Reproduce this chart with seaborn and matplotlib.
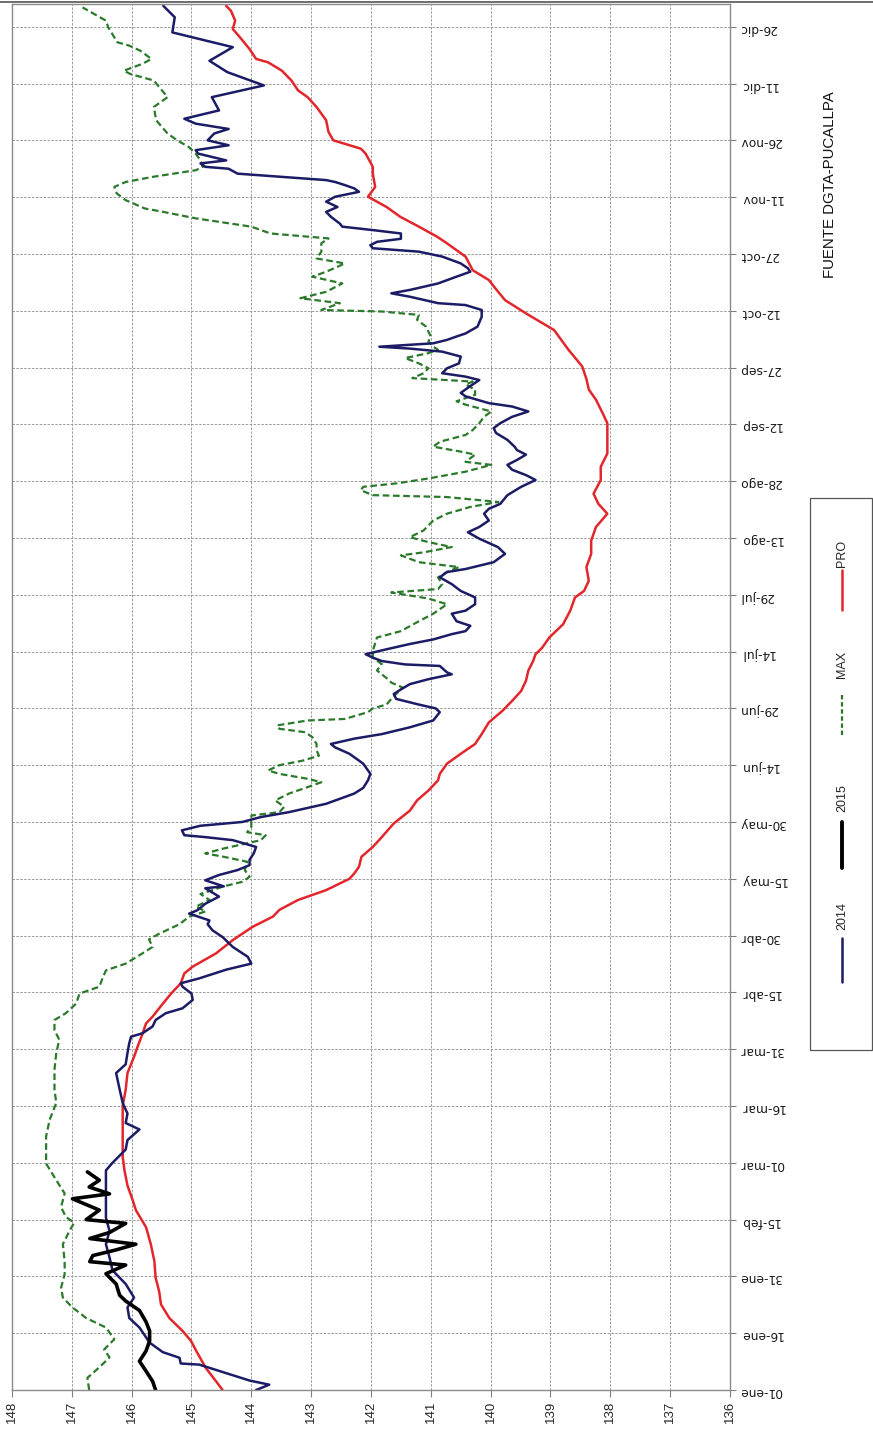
import matplotlib
matplotlib.use("Agg")
import matplotlib.pyplot as plt
from matplotlib.lines import Line2D
from matplotlib.patches import Rectangle
import seaborn as sns

# day of year (0 = 01-ene) and level (m.s.n.m.)
dias_2014 = [0, 1.4, 2.5, 5, 6.7, 7, 8.5, 10, 12.5, 16.5, 19, 21.8, 24.4, 28, 31.6, 35, 38.5, 42,
             45.5, 50, 54, 58, 60, 63.5, 66, 68.8, 70.5, 73, 75.8, 79.3, 83.7, 86, 89, 91.6, 93.3,
             94.2, 96, 97.7, 99.5, 100.8, 103, 104.7, 106.5, 107.4, 108.7, 111, 112.6, 114.4, 117,
             119.6, 121.4, 123, 124, 125.8, 126.7, 128.4, 130.3, 132.5, 133, 134.6, 136, 137.3,
             138.6, 140, 141.7, 143.4, 145.2, 146, 146.5, 147.8, 149, 150, 151.3, 152.6, 154.8,
             157.5, 159, 161, 162.7, 165.4, 168, 169.7, 170.6, 172, 173.2, 175, 176.8, 179, 180,
             181, 182.5, 183.8, 185, 186.4, 187.7, 189, 189.5, 191.2, 191.6, 192.5, 193.4, 194.3,
             195.6, 197, 198.2, 199.6, 200.4, 201.8, 203, 205, 205.8, 207.5, 209.3, 211, 212.8,
             214.6, 216, 216.8, 218.6, 220.8, 222.6, 224.8, 226.5, 227.9, 229.6, 231.4, 232.7,
             234, 236.3, 238.5, 240.3, 241.6, 243, 244.3, 245.6, 247, 248.2, 249.1, 250.9, 252.7,
             254, 255.3, 257, 258.4, 259.7, 260.6, 262.4, 263.3, 265, 266.7, 267.6, 268.5, 269.8,
             271.1, 272.9, 274.2, 275, 275.5, 276.4, 277.3, 278.2, 279, 280.8, 283.4, 285.2,
             286.5, 287, 288.7, 289.6, 290.5, 292.2, 294, 295.3, 296.2, 297.5, 299.3, 300.6,
             301.5, 302.3, 303.2, 304, 305.4, 306.3, 307.2, 308, 309.8, 311.1, 312.4, 313.8,
             315.1, 316.4, 317.3, 318.2, 319, 319.5, 320.4, 321.2, 322.5, 323, 323.9, 324.7,
             326.5, 327.4, 328.7, 330, 331.8, 333, 334.4, 335.7, 337.9, 341.4, 344.5, 348, 351,
             354.6, 358.5, 362.5, 365.5]
nivel_2014 = [143.92, 143.7, 144.03, 144.53, 144.87, 145.18, 145.2, 145.48, 145.7, 145.87, 146.04,
              146.07, 145.96, 146.1, 146.32, 146.37, 146.43, 146.37, 146.43, 146.43, 146.43,
              146.43, 146.32, 146.1, 146.07, 145.87, 146.1, 146.07, 146.15, 146.2, 146.26, 146.1,
              146.07, 146.04, 146.01, 145.82, 145.65, 145.6, 145.43, 145.15, 144.98, 145.0,
              145.15, 145.18, 144.87, 144.42, 144.0, 144.06, 144.31, 144.48, 144.65, 144.73,
              144.7, 145.04, 144.9, 144.77, 144.54, 144.77, 144.46, 144.77, 144.54, 144.23,
              144.03, 144.03, 143.96, 143.92, 144.31, 144.77, 145.12, 145.16, 144.85, 144.15,
              143.84, 143.37, 142.75, 142.28, 142.13, 142.05, 142.01, 142.13, 142.36, 142.6,
              142.67, 142.28, 141.82, 141.35, 140.96, 140.85, 140.92, 141.2, 141.58, 141.62,
              141.5, 141.35, 141.04, 140.65, 140.73, 140.85, 141.43, 141.82, 141.97, 142.09,
              141.74, 141.35, 140.96, 140.65, 140.42, 140.34, 140.57, 140.65, 140.42, 140.26,
              140.26, 140.5, 140.65, 140.85, 140.73, 140.42, 139.95, 139.76, 139.88, 140.19,
              140.38, 140.19, 140.03, 140.11, 140.03, 139.84, 139.72, 139.49, 139.25, 139.41,
              139.64, 139.72, 139.56, 139.41, 139.56, 139.6, 139.72, 139.91, 139.95, 139.84,
              139.64, 139.37, 139.64, 140.03, 140.42, 140.5, 140.35, 140.19, 140.42, 140.81,
              140.73, 140.53, 140.5, 140.81, 141.35, 141.86, 140.96, 140.73, 140.57, 140.42,
              140.22, 140.15, 140.15, 140.42, 140.88, 141.35, 141.66, 141.35, 140.88, 140.57,
              140.34, 140.38, 140.5, 140.81, 141.2, 141.97, 142.01, 141.9, 141.5, 141.5, 141.97,
              142.48, 142.52, 142.67, 142.75, 142.56, 142.75, 142.6, 142.2, 142.28, 142.44,
              142.6, 142.75, 143.53, 144.23, 144.38, 144.77, 144.85, 144.42, 144.89, 144.93,
              144.38, 144.73, 144.62, 144.38, 144.93, 145.12, 144.54, 144.66, 143.79, 144.4,
              144.7, 144.31, 145.32, 145.28, 145.47]

dias_2015 = [0, 2.3, 5, 7.6, 10.3, 13, 15.6, 18, 21, 23.5, 25, 28, 30.7, 33, 33.9, 35.5, 37, 38.5,
             40, 41.6, 44, 45, 47.5, 50.5, 51.8, 53.6, 55.4, 57.6]
nivel_2015 = [145.6, 145.65, 145.76, 145.87, 145.76, 145.7, 145.7, 145.76, 145.87, 146.1, 146.2,
              146.26, 146.43, 146.1, 146.7, 146.65, 146.26, 145.93, 146.7, 146.37, 146.1, 146.76,
              146.54, 146.99, 146.37, 146.71, 146.54, 146.74]

dias_max = [0, 3.2, 6, 8.6, 10.7, 13.4, 16.5, 19, 21.8, 24.4, 27, 30.6, 34, 38.5, 42, 44.2, 45.7,
            48.3, 51.9, 55.4, 59.8, 63.4, 67, 71.4, 75.8, 79.3, 84.6, 89, 92.5, 95, 97.7, 99.5,
            102, 104.7, 106.5, 109, 110.8, 112.6, 115.3, 117, 119, 120.5, 123, 125, 126.4, 127.6,
            129.4, 131, 133, 134.2, 135.5, 137.3, 139.5, 140.8, 141.7, 143, 145.2, 146.5, 147.3,
            148.7, 150.4, 151.7, 152.6, 154, 155.7, 157.5, 159.2, 160.5, 161.4, 162.7, 163.6,
            165, 166.2, 167.5, 168.9, 170.6, 172.4, 173.7, 174.6, 175.5, 176.8, 177.2, 179, 180,
            181, 182.5, 183.8, 185.5, 186.8, 188, 190, 191.7, 193.4, 195.2, 198.7, 200.4, 203,
            205, 207.5, 209, 210.6, 211.5, 212.8, 214.6, 216, 217.3, 218.6, 220.4, 221.2, 222.6,
            223.9, 225.2, 227, 229.6, 231.4, 233.2, 234.5, 235.8, 236.3, 237.6, 238.5, 239.4,
            240.7, 242.5, 244.3, 245.1, 247, 247.8, 249.1, 250.4, 252.2, 253.5, 255.3, 257,
            258.4, 260.2, 261.1, 262.8, 264.2, 265.5, 266.3, 267.2, 268.5, 269.8, 271.1, 272.5,
            273.8, 274.7, 275.5, 276.9, 278.2, 280.8, 282.6, 283.9, 284.8, 285.2, 287, 288.3,
            290, 292.2, 294, 295.3, 296.6, 297.5, 298.8, 300.6, 302.8, 304.1, 305.4, 307.2,
            309.4, 311.1, 312, 314.2, 316, 317.7, 319, 320.4, 322.1, 323, 324.7, 326.5, 328.3,
            330, 331.8, 335.3, 338.8, 341.4, 345.8, 347.5, 348.4, 350.2, 351.5, 353.7, 355,
            355.9, 359.8, 361.6, 365.1]
nivel_max = [146.71, 146.74, 146.54, 146.37, 146.46, 146.29, 146.43, 146.76, 146.99, 147.15, 147.18,
             147.12, 147.12, 147.15, 147.04, 146.96, 147.1, 147.18, 147.12, 147.26, 147.43, 147.43,
             147.43, 147.37, 147.26, 147.29, 147.29, 147.26, 147.21, 147.29, 147.29, 147.1,
             146.93, 146.87, 146.54, 146.48, 146.43, 146.1, 145.82, 145.65, 145.71, 145.54, 145.2,
             145.04, 144.76, 144.93, 144.7, 144.85, 144.46, 144.15, 144.03, 144.11, 144.07,
             144.46, 144.77, 144.46, 143.84, 143.76, 144.07, 144.0, 144.0, 144.0, 143.53, 143.45,
             143.6, 143.37, 143.06, 142.83, 143.06, 143.53, 143.72, 143.53, 143.14, 142.87,
             142.91, 142.91, 142.98, 143.1, 143.53, 143.57, 143.06, 142.44, 142.05, 141.97,
             141.74, 141.66, 141.58, 141.47, 141.66, 141.74, 141.9, 141.82, 141.97, 141.97,
             141.9, 141.5, 141.2, 140.96, 140.73, 141.04, 141.66, 140.88, 140.81, 140.88, 140.73,
             140.53, 141.2, 141.5, 141.12, 140.65, 141.04, 141.35, 141.12, 140.96, 140.73, 140.34,
             139.87, 140.73, 141.97, 142.17, 142.13, 141.58, 141.04, 140.42, 139.99, 140.42,
             140.26, 140.5, 140.96, 140.85, 140.42, 140.3, 140.19, 140.11, 139.99, 140.42, 140.57,
             140.26, 140.26, 140.42, 140.3, 141.31, 141.12, 141.04, 141.2, 141.43, 141.04, 140.88,
             140.96, 141.04, 141.0, 141.08, 141.23, 141.2, 141.82, 142.83, 142.52, 143.18, 142.75,
             142.48, 142.98, 142.75, 142.56, 142.44, 142.91, 142.83, 142.83, 142.71, 143.68,
             144.0, 144.93, 145.47, 145.78, 146.1, 146.25, 146.29, 146.1, 145.63, 144.93, 144.81,
             144.85, 144.93, 145.05, 145.24, 145.4, 145.59, 145.63, 145.4, 145.63, 146.02, 146.13,
             145.82, 145.67, 145.86, 146.04, 146.24, 146.39, 146.43, 146.82]

dias_pro = [0, 2.3, 5.8, 10.3, 13, 15.6, 19, 22.6, 26, 29.7, 34, 38.5, 43, 47.5, 50, 54, 58, 61.6,
            67, 71.4, 75, 79.3, 83.7, 88, 90.7, 94, 96.8, 98.6, 102, 104.7, 107.4, 110, 111.8,
            115.3, 118.8, 122.3, 125, 126.8, 129.4, 132, 135, 136.4, 138.2, 140.8, 143.4, 146,
            149.6, 153, 155.7, 158.3, 161, 162.7, 165.4, 168, 170.6, 173.2, 176.3, 179.4, 182,
            184.6, 187.3, 190, 192.5, 194.3, 196, 198.7, 202.2, 205.8, 209.3, 211, 213.7, 217.3,
            220.8, 224.3, 227.9, 231.4, 234, 236.7, 240.3, 243.8, 247.3, 250.9, 255.3, 258,
            261.5, 264.2, 267, 270.3, 274.7, 279.9, 284.3, 287.8, 290.5, 293.1, 295.7, 299.3,
            302.8, 304.5, 307.2, 309.8, 312.4, 315.1, 317.7, 321.2, 323, 326.5, 327.8, 330,
            332.2, 335.3, 338.8, 341.4, 343.2, 345.8, 348.4, 350.6, 351.5, 354.1, 357.2, 359.4,
            361.6, 364.2, 365.5]
nivel_pro = [144.48, 144.59, 144.76, 144.92, 145.01, 145.15, 145.37, 145.51, 145.54, 145.6, 145.62,
             145.68, 145.76, 145.93, 145.98, 146.07, 146.12, 146.15, 146.15, 146.15, 146.15,
             146.1, 146.07, 145.96, 145.9, 145.82, 145.76, 145.65, 145.48, 145.34, 145.18, 145.12,
             144.98, 144.59, 144.31, 143.98, 143.64, 143.53, 143.22, 142.75, 142.36, 142.28,
             142.2, 142.16, 141.97, 141.82, 141.62, 141.35, 141.23, 141.04, 140.88, 140.85,
             140.73, 140.5, 140.26, 140.15, 140.03, 139.8, 139.64, 139.49, 139.41, 139.37, 139.29,
             139.25, 139.14, 139.02, 138.79, 138.67, 138.59, 138.44, 138.36, 138.4, 138.32,
             138.32, 138.24, 138.05, 138.2, 138.28, 138.16, 138.16, 138.05, 138.05, 138.05,
             138.13, 138.24, 138.36, 138.4, 138.47, 138.7, 138.94, 139.41, 139.76, 139.9, 140.03,
             140.3, 140.42, 140.73, 140.89, 141.2, 141.51, 141.74, 142.05, 141.93, 141.97,
             141.97, 142.09, 142.17, 142.63, 142.71, 142.75, 142.91, 143.06, 143.22, 143.33,
             143.49, 143.72, 143.92, 144.03, 144.19, 144.31, 144.27, 144.34, 144.42]

fechas = ["01-ene", "16-ene", "31-ene", "15-feb", "01-mar", "16-mar", "31-mar", "15-abr", "30-abr",
          "15-may", "30-may", "14-jun", "29-jun", "14-jul", "29-jul", "13-ago", "28-ago", "12-sep",
          "27-sep", "12-oct", "27-oct", "11-nov", "26-nov", "11-dic", "26-dic"]
niveles = list(range(136, 149))

sns.set_style("white")
plt.rcParams["font.family"] = ["DejaVu Sans"]

W, H = 873, 1431
fig = plt.figure(figsize=(W / 100, H / 100), dpi=100)
ax = fig.add_axes([12 / W, 1 - 1390 / H, (730 - 12) / W, (1390 - 4) / H])

C_2014 = "#1c1c66"
C_2015 = "#000000"
C_MAX = "#2b7a2b"
C_PRO = "#e3262b"

sns.lineplot(x=nivel_pro, y=dias_pro, orient="y", sort=False, estimator=None,
             color=C_PRO, linewidth=1.8, ax=ax)
sns.lineplot(x=nivel_max, y=dias_max, orient="y", sort=False, estimator=None,
             color=C_MAX, linewidth=1.6, linestyle=(0, (3, 1.6)), ax=ax)
sns.lineplot(x=nivel_2014, y=dias_2014, orient="y", sort=False, estimator=None,
             color=C_2014, linewidth=1.8, ax=ax)
sns.lineplot(x=nivel_2015, y=dias_2015, orient="y", sort=False, estimator=None,
             color=C_2015, linewidth=2.6, ax=ax)

ax.set_xlim(148, 136)
ax.set_ylim(0, 366)
ax.set_xlabel("")
ax.set_ylabel("")

ax.set_xticks(niveles)
ax.set_xticklabels([str(n) for n in niveles], rotation=90,
                   family=["Liberation Sans", "DejaVu Sans"], fontsize=9.5)
ax.yaxis.tick_right()
ax.set_yticks(range(0, 15 * len(fechas), 15))
ax.set_yticklabels(fechas, rotation=180, fontsize=8.8, color="#1a1a1a")

ax.grid(True, color="#9a9a9a", linestyle=(0, (2.5, 1.5)), linewidth=0.7)
ax.tick_params(axis="y", which="both", right=True, left=False, length=4, width=0.8,
               color="#808080", pad=3)
ax.tick_params(axis="x", which="both", bottom=True, length=5, width=0.8,
               color="#808080", pad=3)
for s in ax.spines.values():
    s.set_color("#8a8a8a")
    s.set_linewidth(1.0)

# top border of the chart area
fig.add_artist(Line2D([0, 1], [1 - 2 / H, 1 - 2 / H], color="#6e6e6e", linewidth=1.4))

# legend (drawn rotated like the rest of the chart)
fig.add_artist(Rectangle((810 / W, 1 - 1050 / H), 62 / W, (1050 - 498) / H,
                         fill=False, edgecolor="#555555", linewidth=0.9))
entradas = [("PRO", C_PRO, "-", 1.8, 553, 570, 610),
            ("MAX", C_MAX, (0, (2, 1.2)), 1.6, 664, 695, 736),
            ("2015", C_2015, "-", 2.8, 798, 822, 868),
            ("2014", C_2014, "-", 1.8, 916, 938, 982)]
lx = 842
for nombre, col, ls, lw, ty, y0, y1 in entradas:
    fig.add_artist(Line2D([lx / W, lx / W], [1 - y0 / H, 1 - y1 / H], color=col,
                          linestyle=ls, linewidth=lw))
    fig.text(lx / W, 1 - ty / H, nombre, rotation=90, ha="center", va="center",
             fontsize=9, family=["Liberation Sans", "DejaVu Sans"])

fig.text(830 / W, 1 - 185 / H, "FUENTE DGTA-PUCALLPA", rotation=90, ha="center", va="center",
         fontsize=10.8, color="#111111", family=["Liberation Sans", "DejaVu Sans"])

fig.savefig("out.png", dpi=100)
